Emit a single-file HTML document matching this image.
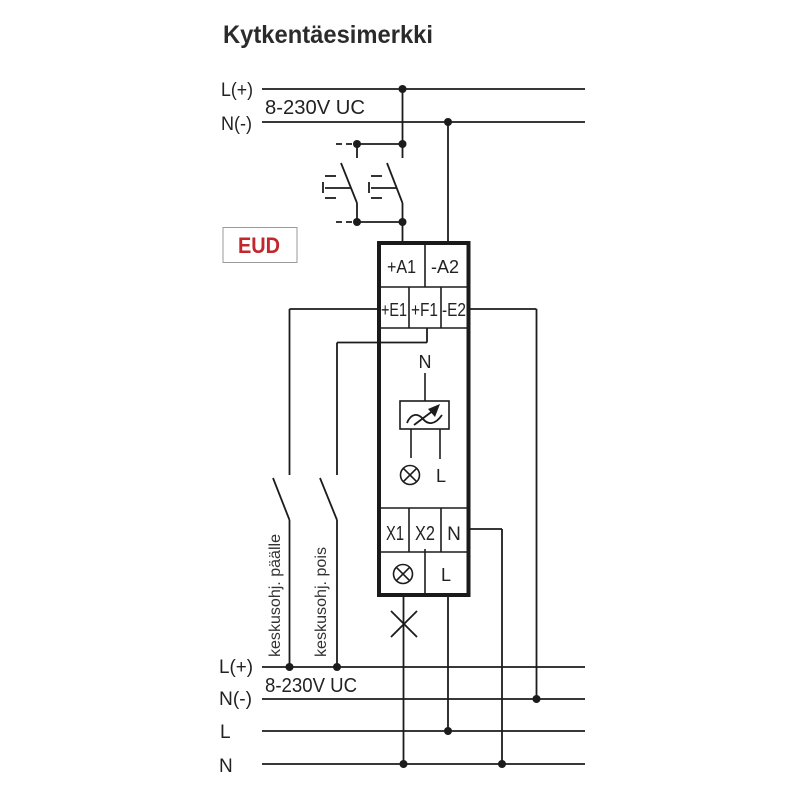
<!DOCTYPE html>
<html>
<head>
<meta charset="utf-8">
<style>
  html, body { margin: 0; padding: 0; background: #ffffff; }
  svg { display: block; }
  text { font-family: "Liberation Sans", sans-serif; fill: #222; }
</style>
</head>
<body>
<svg width="800" height="800" viewBox="0 0 800 800" xmlns="http://www.w3.org/2000/svg">
  <rect x="0" y="0" width="800" height="800" fill="#ffffff"/>

  <!-- Title -->
  <text x="223" y="43" font-size="25" font-weight="bold" textLength="210" lengthAdjust="spacingAndGlyphs" style="fill:#2b2b2b">Kytkentäesimerkki</text>

  <g stroke="#1c1c1c" stroke-width="1.8" fill="none" stroke-linecap="butt">
    <!-- top bus -->
    <line x1="262" y1="89" x2="585" y2="89"/>
    <line x1="262" y1="122" x2="585" y2="122"/>

    <!-- L feed down to switches -->
    <line x1="402.5" y1="89" x2="402.5" y2="158"/>
    <!-- N feed to A2 -->
    <line x1="448" y1="122" x2="448" y2="242"/>

    <!-- top switch connector -->
    <line x1="357" y1="144" x2="402.5" y2="144"/>
    <line x1="336" y1="144" x2="353" y2="144" stroke-dasharray="6 4"/>
    <line x1="357" y1="144" x2="357" y2="158"/>

    <!-- switch diagonals -->
    <line x1="341" y1="163" x2="357" y2="203"/>
    <line x1="387" y1="163" x2="402.5" y2="203"/>
    <line x1="357" y1="203" x2="357" y2="222"/>
    <line x1="402.5" y1="203" x2="402.5" y2="242"/>

    <!-- bottom switch connector -->
    <line x1="357" y1="222" x2="402.5" y2="222"/>
    <line x1="336" y1="222" x2="353" y2="222" stroke-dasharray="6 4"/>

    <!-- pushbutton symbols -->
    <line x1="325" y1="176" x2="336" y2="176"/>
    <line x1="323" y1="182" x2="323" y2="193"/>
    <line x1="325" y1="188" x2="351" y2="188"/>
    <line x1="325" y1="198" x2="336" y2="198"/>

    <line x1="371" y1="176" x2="382" y2="176"/>
    <line x1="369" y1="182" x2="369" y2="193"/>
    <line x1="371" y1="188" x2="397" y2="188"/>
    <line x1="371" y1="198" x2="382" y2="198"/>

    <!-- E1 wire -->
    <line x1="289.5" y1="309" x2="379" y2="309"/>
    <line x1="289.5" y1="309" x2="289.5" y2="475"/>
    <line x1="273" y1="478" x2="289.5" y2="520"/>
    <line x1="289.5" y1="520" x2="289.5" y2="667"/>

    <!-- F1 wire -->
    <line x1="427" y1="328" x2="427" y2="342.5"/>
    <line x1="337" y1="342.5" x2="427" y2="342.5"/>
    <line x1="337" y1="342.5" x2="337" y2="475"/>
    <line x1="320" y1="478" x2="337" y2="520"/>
    <line x1="337" y1="520" x2="337" y2="667"/>

    <!-- E2 wire -->
    <line x1="468" y1="309" x2="536.5" y2="309"/>
    <line x1="536.5" y1="309" x2="536.5" y2="699"/>

    <!-- N output wire -->
    <line x1="468" y1="529" x2="502" y2="529"/>
    <line x1="502" y1="529" x2="502" y2="764"/>

    <!-- lamp wire -->
    <line x1="403.5" y1="596" x2="403.5" y2="764"/>
    <line x1="391" y1="611" x2="417" y2="637"/>
    <line x1="417" y1="611" x2="391" y2="637"/>

    <!-- L wire -->
    <line x1="448" y1="596" x2="448" y2="731"/>

    <!-- bottom bus -->
    <line x1="262" y1="667" x2="585" y2="667"/>
    <line x1="262" y1="699" x2="585" y2="699"/>
    <line x1="262" y1="731" x2="585" y2="731"/>
    <line x1="262" y1="764" x2="585" y2="764"/>
  </g>

  <!-- dots -->
  <g fill="#1c1c1c">
    <circle cx="402.5" cy="89" r="4"/>
    <circle cx="448" cy="122" r="4"/>
    <circle cx="357" cy="144" r="4"/>
    <circle cx="402.5" cy="144" r="4"/>
    <circle cx="357" cy="222" r="4"/>
    <circle cx="402.5" cy="222" r="4"/>
    <circle cx="289.5" cy="667" r="4"/>
    <circle cx="337" cy="667" r="4"/>
    <circle cx="536.5" cy="699" r="4"/>
    <circle cx="448" cy="731" r="4"/>
    <circle cx="403.5" cy="764" r="4"/>
    <circle cx="502" cy="764" r="4"/>
  </g>

  <!-- Device box -->
  <rect x="379" y="243" width="89.5" height="352" fill="none" stroke="#1a1a1a" stroke-width="4"/>
  <g stroke="#1c1c1c" stroke-width="1.6" fill="none">
    <line x1="381" y1="287" x2="467" y2="287"/>
    <line x1="425" y1="245" x2="425" y2="287"/>
    <line x1="381" y1="328" x2="467" y2="328"/>
    <line x1="409" y1="287" x2="409" y2="328"/>
    <line x1="441" y1="287" x2="441" y2="328"/>

    <line x1="381" y1="508" x2="467" y2="508"/>
    <line x1="409" y1="508" x2="409" y2="552"/>
    <line x1="441" y1="508" x2="441" y2="552"/>
    <line x1="381" y1="552" x2="467" y2="552"/>
    <line x1="425" y1="549" x2="425" y2="593"/>

    <!-- inner diagram -->
    <line x1="425" y1="373" x2="425" y2="401"/>
    <rect x="400" y="401" width="49" height="28"/>
    <line x1="411" y1="429" x2="411" y2="458"/>
    <line x1="440" y1="429" x2="440" y2="459"/>
    <path d="M407 423 C 411 413, 418 413, 423 419 S 435 425, 442 415" stroke-width="1.8"/>
    <line x1="414" y1="425" x2="434" y2="410" stroke-width="1.8"/>

    <!-- lamps -->
    <circle cx="410" cy="475" r="9.5"/>
    <line x1="403.3" y1="468.3" x2="416.7" y2="481.7"/>
    <line x1="416.7" y1="468.3" x2="403.3" y2="481.7"/>

    <circle cx="403" cy="574" r="9.5"/>
    <line x1="396.3" y1="567.3" x2="409.7" y2="580.7"/>
    <line x1="409.7" y1="567.3" x2="396.3" y2="580.7"/>
  </g>
  <polygon points="440,404 428,409 435,417" fill="#1c1c1c"/>

  <!-- box labels -->
  <text x="387" y="273" font-size="18" textLength="29" lengthAdjust="spacingAndGlyphs">+A1</text>
  <text x="431" y="273" font-size="18" textLength="28" lengthAdjust="spacingAndGlyphs">-A2</text>
  <text x="381" y="316" font-size="18" textLength="26" lengthAdjust="spacingAndGlyphs">+E1</text>
  <text x="411" y="316" font-size="18" textLength="27" lengthAdjust="spacingAndGlyphs">+F1</text>
  <text x="442" y="316" font-size="18" textLength="24" lengthAdjust="spacingAndGlyphs">-E2</text>
  <text x="425" y="368" font-size="18" text-anchor="middle">N</text>
  <text x="441" y="482" font-size="18" text-anchor="middle">L</text>
  <text x="386" y="540" font-size="20" textLength="18" lengthAdjust="spacingAndGlyphs">X1</text>
  <text x="415" y="540" font-size="20" textLength="20" lengthAdjust="spacingAndGlyphs">X2</text>
  <text x="454" y="540" font-size="19" text-anchor="middle">N</text>
  <text x="446" y="581" font-size="18" text-anchor="middle">L</text>

  <!-- EUD badge -->
  <rect x="223" y="227.5" width="74" height="35" fill="#ffffff" stroke="#9a9a9a" stroke-width="1"/>
  <text x="238" y="253" font-size="22" font-weight="bold" textLength="42" lengthAdjust="spacingAndGlyphs" style="fill:#c1272d">EUD</text>

  <!-- top bus labels -->
  <text x="221" y="96" font-size="19" textLength="32" lengthAdjust="spacingAndGlyphs">L(+)</text>
  <text x="265" y="114" font-size="20" textLength="100" lengthAdjust="spacingAndGlyphs">8-230V UC</text>
  <text x="221" y="130" font-size="19" textLength="31" lengthAdjust="spacingAndGlyphs">N(-)</text>

  <!-- bottom bus labels -->
  <text x="219" y="673" font-size="19" textLength="34" lengthAdjust="spacingAndGlyphs">L(+)</text>
  <text x="265" y="692" font-size="20" textLength="92" lengthAdjust="spacingAndGlyphs">8-230V UC</text>
  <text x="219" y="705" font-size="19" textLength="33" lengthAdjust="spacingAndGlyphs">N(-)</text>
  <text x="220" y="738" font-size="19">L</text>
  <text x="219" y="772" font-size="19">N</text>

  <!-- rotated switch labels -->
  <text transform="translate(280,657) rotate(-90)" x="0" y="0" font-size="16" textLength="123" lengthAdjust="spacingAndGlyphs" style="fill:#333">keskusohj. päälle</text>
  <text transform="translate(326,657) rotate(-90)" x="0" y="0" font-size="16" textLength="110" lengthAdjust="spacingAndGlyphs" style="fill:#333">keskusohj. pois</text>
</svg>
</body>
</html>
